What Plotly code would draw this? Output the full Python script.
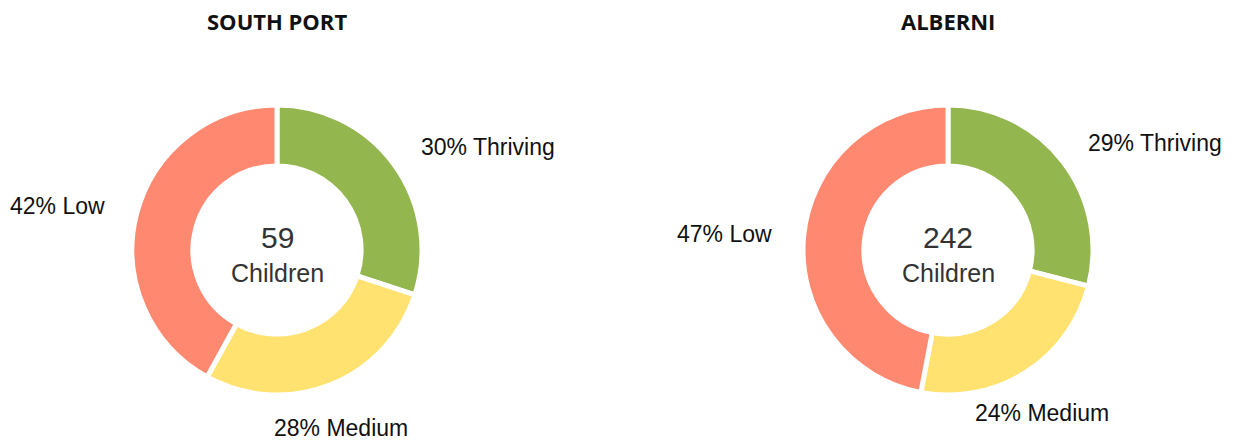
import math
import plotly.graph_objects as go

regions = ["SOUTH PORT", "ALBERNI"]
totals = [59, 242]
categories = ["Thriving", "Medium", "Low"]
south_port_pct = [30, 28, 42]
alberni_pct = [29, 24, 47]
colors = ["#93B64E", "#FFE270", "#FF8870"]

series = [south_port_pct, alberni_pct]

# the page body adds an 8px margin, so the figure is drawn 8px smaller/offset
W, H = 1225, 435
MT, MB = 97, 48
R = (H - MT - MB) / 2          # pie radius in px
centers_px = [269, 940]          # pie centre x in px (figure coords)
LABEL_R = R + 30
FONT = "Liberation Sans, Arial, sans-serif"

fig = go.Figure()
for name, total, vals, cx in zip(regions, totals, series, centers_px):
    dx = [(cx - R) / W, (cx + R) / W]
    fig.add_trace(go.Pie(
        labels=categories,
        values=vals,
        textinfo="none",
        hole=0.58,
        sort=False,
        direction="clockwise",
        rotation=0,
        marker=dict(colors=colors, line=dict(color="white", width=5)),
        domain=dict(x=dx, y=[0, 1]),
        showlegend=False,
        hoverinfo="label+percent",
    ))
    xc = cx / W
    # title
    fig.add_annotation(text=f"<b>{name}</b>", x=xc, y=1, xref="paper", yref="paper",
                       yshift=MT - 13, xanchor="center", yanchor="middle", showarrow=False,
                       font=dict(family="Open Sans, sans-serif", size=22, color="#111111"))
    # centre text
    fig.add_annotation(text=str(total), x=xc, y=0.5, xref="paper", yref="paper",
                       yshift=13, xanchor="center", yanchor="middle", showarrow=False,
                       font=dict(family=FONT, size=30, color="#333333"))
    fig.add_annotation(text="Children", x=xc, y=0.5, xref="paper", yref="paper",
                       yshift=-23, xanchor="center", yanchor="middle", showarrow=False,
                       font=dict(family=FONT, size=25, color="#333333"))
    # slice labels, placed at each slice's mid-angle
    tot = sum(vals)
    cum = 0
    for v, c in zip(vals, categories):
        mid = (cum + v / 2) / tot * 2 * math.pi
        cum += v
        s, co = math.sin(mid), math.cos(mid)
        xa = "left" if s > 0.6 else ("right" if s < -0.6 else "center")
        ya = "middle" if abs(co) < 0.7 else ("top" if co < 0 else "bottom")
        fig.add_annotation(text=f"{v}% {c}", x=xc, y=0.5, xref="paper", yref="paper",
                           xshift=LABEL_R * s, yshift=LABEL_R * co,
                           xanchor=xa, yanchor=ya, showarrow=False,
                           font=dict(family=FONT, size=23, color="#111111"))

fig.update_layout(
    width=W, height=H,
    margin=dict(l=0, r=0, t=MT, b=MB),
    paper_bgcolor="white", plot_bgcolor="white",
)
fig.write_html("out.html")
